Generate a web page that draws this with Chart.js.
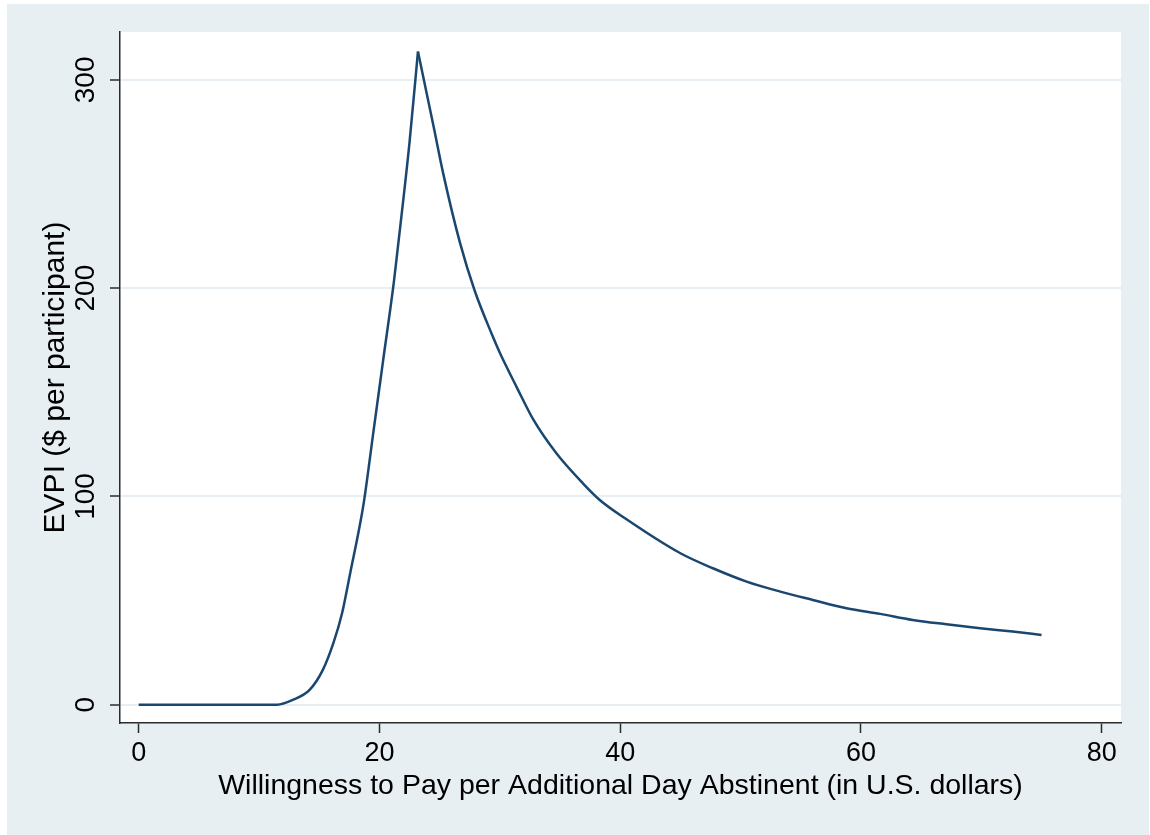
<!DOCTYPE html>
<html>
<head>
<meta charset="utf-8">
<script src="https://cdn.jsdelivr.net/npm/chart.js@4"></script>
<style>
  html, body { margin: 0; padding: 0; background: #ffffff; }
  #wrap { width: 1150px; height: 835px; }
</style>
</head>
<body>
<div id="wrap"><canvas id="evpiChart" width="1150" height="835"></canvas></div>
<script>
// Curve: rising part up to the peak, then the decay
const risingX = [0, 11.5, 12.8, 14.2, 15.3, 16.2, 16.9, 17.6, 18.3, 18.7, 19.5, 20.3, 21.2, 21.5, 22.5, 23.2];
const risingY = [0, 0, 2.3, 7.1, 16.7, 30, 44, 64, 84, 97, 131, 165, 203, 218, 270, 313.6];
const fallingX = [23.2, 24.5, 25.3, 26.7, 27.9, 29.4, 30.0, 31.4, 32.8, 34.7, 36.9, 38.3, 40.4, 45.0, 47.7, 50.5, 53.3, 56.0, 58.8, 61.6, 64.3, 67.1, 69.9, 72.6, 75.0];
const fallingY = [313.6, 277.6, 255, 221.6, 199, 177, 169, 152.5, 136.7, 120.7, 106.3, 98.3, 89.5, 72.7, 65.5, 59.1, 54.3, 50.3, 46.3, 43.6, 40.7, 38.6, 36.7, 35.1, 33.5];

// Tick labels
const xTicks = [0, 20, 40, 60, 80];
const yTicks = [0, 100, 200, 300];

const xTitle = 'Willingness to Pay per Additional Day Abstinent (in U.S. dollars)';
const yTitle = 'EVPI ($ per participant)';

const lineColor = '#1a476f';
const bgColor = '#e8eff2';
const fontFamily = '"Liberation Sans", Arial, sans-serif';

function toPoints(xs, ys) {
    return xs.map((x, i) => ({ x: x, y: ys[i] }));
}

// Stata-like background: bluish-gray graph region, white plot region
const backgroundPlugin = {
    id: 'background',
    beforeDraw(chart) {
        const c = chart.ctx;
        const a = chart.chartArea;
        c.save();
        c.fillStyle = '#ffffff';
        c.fillRect(0, 0, chart.width, chart.height);
        c.fillStyle = bgColor;
        c.fillRect(7, 4, chart.width - 8, chart.height - 4);
        c.fillStyle = '#ffffff';
        c.fillRect(a.left, a.top, a.right - a.left, a.bottom - a.top);
        c.restore();
    }
};

const ctx = document.getElementById('evpiChart').getContext('2d');

new Chart(ctx, {
    type: 'line',
    data: {
        datasets: [
            {
                data: toPoints(risingX, risingY),
                borderColor: lineColor,
                borderWidth: 2.5,
                pointRadius: 0,
                cubicInterpolationMode: 'monotone',
                fill: false
            },
            {
                data: toPoints(fallingX, fallingY),
                borderColor: lineColor,
                borderWidth: 2.5,
                pointRadius: 0,
                cubicInterpolationMode: 'monotone',
                fill: false
            }
        ]
    },
    options: {
        responsive: false,
        animation: false,
        layout: { padding: { left: 0, top: 32, right: 29, bottom: 0 } },
        plugins: {
            legend: { display: false },
            tooltip: { enabled: false }
        },
        scales: {
            x: {
                type: 'linear',
                min: -1.55,
                max: 81.6,
                afterBuildTicks: (scale) => { scale.ticks = xTicks.map(v => ({ value: v })); },
                afterFit: (scale) => { scale.height = 112; },
                border: { color: '#2b2b2b', width: 1.5 },
                grid: {
                    drawOnChartArea: false,
                    drawTicks: true,
                    tickLength: 10,
                    tickColor: '#2b2b2b',
                    tickWidth: 1.5
                },
                ticks: {
                    color: '#000',
                    padding: 4,
                    maxRotation: 0,
                    font: { family: fontFamily, size: 27 }
                },
                title: {
                    display: true,
                    text: xTitle,
                    color: '#000',
                    padding: { top: 0, bottom: 32 },
                    font: { family: fontFamily, size: 28.5 }
                }
            },
            y: {
                type: 'linear',
                min: -8.8,
                max: 323,
                afterBuildTicks: (scale) => { scale.ticks = yTicks.map(v => ({ value: v })); },
                afterFit: (scale) => { scale.width = 120; },
                border: { color: '#2b2b2b', width: 1.5 },
                grid: {
                    color: bgColor,
                    lineWidth: 2,
                    drawTicks: true,
                    tickLength: 10,
                    tickColor: '#2b2b2b',
                    tickWidth: 1.5
                },
                ticks: {
                    color: '#000',
                    padding: 0,
                    minRotation: 90,
                    maxRotation: 90,
                    crossAlign: 'center',
                    font: { family: fontFamily, size: 28 }
                },
                title: {
                    display: true,
                    text: yTitle,
                    color: '#000',
                    padding: { top: 38, bottom: 0 },
                    font: { family: fontFamily, size: 30 }
                }
            }
        }
    },
    plugins: [backgroundPlugin]
});
</script>
</body>
</html>
